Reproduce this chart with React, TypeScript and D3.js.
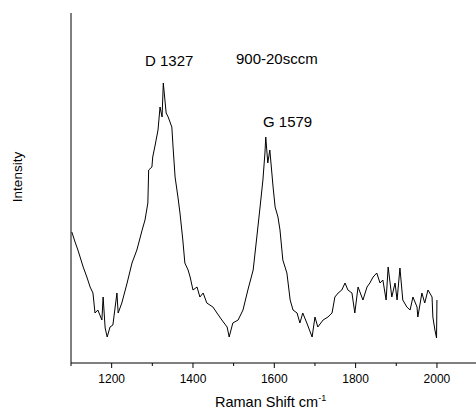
import React from "react";
import * as d3 from "d3";

const ramanShift: number[] = [
  1102, 1110, 1117, 1130, 1139, 1147, 1154, 1159, 1166, 1176, 1179, 1184, 1189, 1196, 1203,
  1213, 1216, 1225, 1238, 1250, 1262, 1275, 1282, 1289, 1291, 1299, 1301, 1307, 1314, 1319,
  1324, 1327, 1334, 1339, 1348, 1351, 1356, 1363, 1368, 1375, 1380, 1388, 1393, 1400, 1410,
  1417, 1425, 1434, 1449, 1459, 1471, 1484, 1489, 1498, 1511, 1523, 1535, 1548, 1557, 1565,
  1572, 1577, 1579, 1584, 1589, 1597, 1602, 1609, 1614, 1621, 1631, 1639, 1646, 1656, 1663,
  1670, 1680, 1693, 1700, 1707, 1720, 1732, 1742, 1749, 1757, 1766, 1774, 1781, 1791, 1798,
  1806, 1818, 1828, 1835, 1843, 1852, 1860, 1867, 1875, 1880, 1889, 1897, 1902, 1909, 1916,
  1926, 1934, 1941, 1951, 1953, 1963, 1970, 1978, 1988, 1990, 1995, 1999, 2000,
];

const intensity: number[] = [
  131, 121, 113, 96, 86, 76, 70, 50, 53, 43, 66, 35, 26, 36, 38,
  70, 50, 60, 80, 100, 113, 133, 143, 160, 193, 196, 206, 218, 233, 256,
  246, 280, 250, 246, 236, 216, 186, 166, 150, 123, 100, 93, 86, 73, 76,
  66, 70, 60, 56, 50, 43, 36, 26, 40, 43, 53, 73, 93, 126, 156,
  183, 210, 226, 200, 213, 176, 156, 146, 133, 103, 90, 63, 53, 50, 40,
  50, 40, 26, 46, 36, 43, 46, 50, 66, 70, 73, 80, 73, 70, 50,
  76, 63, 76, 80, 86, 90, 80, 83, 63, 96, 66, 80, 63, 95, 63,
  56, 53, 66, 56, 46, 70, 60, 73, 66, 46, 33, 25, 63,
];

const xMajorTicks: number[] = [1200, 1400, 1600, 1800, 2000];
const xMinorTicks: number[] = [1100, 1300, 1500, 1700, 1900, 2100];

const peakLabels: string[] = ["D 1327", "G 1579"];
const sampleLabel = "900-20sccm";

export default function App() {
  const W = 476;
  const H = 412;
  const left = 71;
  const top = 13;
  const bottom = 363;
  const xScale = d3.scaleLinear().domain([1100, 2100]).range([left, left + 1000 * 0.4066]);
  const yScale = d3.scaleLinear().domain([0, 350]).range([bottom, top]);

  const pts: [number, number][] = ramanShift.map((v, i) => [v, intensity[i]]);
  const line = d3
    .line<[number, number]>()
    .x((d) => xScale(d[0]))
    .y((d) => yScale(d[1]));

  const font = "'Liberation Sans', Arial, sans-serif";

  return (
    <svg
      width={W}
      height={H}
      style={{ position: "absolute", left: 0, top: 0, background: "#fff" }}
      fontFamily={font}
    >
      <rect x={0} y={0} width={W} height={H} fill="#fff" />
      {/* axes */}
      <line x1={left} y1={top} x2={left} y2={bottom} stroke="#000" strokeWidth={1} />
      <line x1={left} y1={bottom} x2={W} y2={bottom} stroke="#000" strokeWidth={1} />
      {xMajorTicks.map((t) => (
        <g key={"M" + t}>
          <line x1={xScale(t)} x2={xScale(t)} y1={bottom} y2={bottom + 5} stroke="#000" />
          <text x={xScale(t)} y={383} fontSize={12} textAnchor="middle" fill="#000">
            {t}
          </text>
        </g>
      ))}
      {xMinorTicks.map((t) => (
        <line key={"m" + t} x1={xScale(t)} x2={xScale(t)} y1={bottom} y2={bottom + 3} stroke="#000" />
      ))}
      {/* spectrum */}
      <path d={line(pts) || ""} fill="none" stroke="#000" strokeWidth={1} />
      {/* labels */}
      <text x={145} y={66} fontSize={15} fill="#000">
        {peakLabels[0]}
      </text>
      <text x={263} y={127} fontSize={15} fill="#000">
        {peakLabels[1]}
      </text>
      <text x={236} y={64} fontSize={15} fill="#000">
        {sampleLabel}
      </text>
      <text x={215} y={407} fontSize={14.5} fill="#000">
        Raman Shift cm
        <tspan dy={-6} fontSize={9}>-1</tspan>
      </text>
      <text
        transform="translate(22,177) rotate(-90)"
        fontSize={13.5}
        textAnchor="middle"
        fill="#000"
      >
        Intensity
      </text>
    </svg>
  );
}
